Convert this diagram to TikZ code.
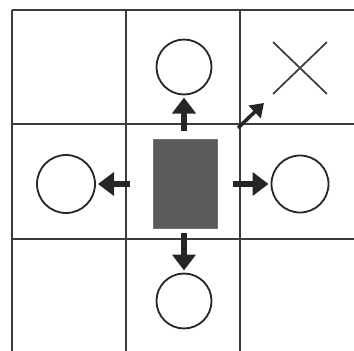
\documentclass[tikz,border=0pt]{standalone}
\usetikzlibrary{arrows.meta}
\definecolor{gridc}{HTML}{3C3C3C}
\definecolor{arrc}{HTML}{262626}
\definecolor{boxc}{HTML}{5A5A5A}
\tikzset{
  gridline/.style={draw=gridc, line width=1.8pt},
  ring/.style={circle, draw=arrc, line width=1.8pt, minimum size=56pt, inner sep=0pt, outer sep=0pt},
  bigarrow/.style={draw=arrc, line width=5.5pt, -{Triangle[width=23pt,length=16pt]}, shorten >=3pt},
  smallarrow/.style={draw=arrc, line width=3.5pt, -{Triangle[width=17pt,length=13pt]}},
  cross/.style={draw=gridc, line width=1.7pt},
}
\begin{document}
\begin{tikzpicture}[x=1pt,y=-1pt]
\useasboundingbox (0,0) rectangle (354,351);
\fill[white] (0,0) rectangle (354,351);
% grid
\foreach \x in {12,126,240} \draw[gridline] (\x,10) -- (\x,351);
\foreach \y in {10,124,239} \draw[gridline] (12,\y) -- (354,\y);
% centre block
\node[fill=boxc, draw=boxc!85, line width=0.6pt, minimum width=64pt, minimum height=89pt, inner sep=0pt] (blk) at (185,183.5) {};
% circles
\node[ring, minimum size=55pt] (top) at (184,67) {};
\node[ring, minimum size=58pt] (left) at (66,184) {};
\node[ring, minimum size=57pt] (right) at (300,184) {};
\node[ring, minimum size=55pt] (bottom) at (184,301) {};
% cross
\coordinate (xa) at (273,42); \coordinate (xb) at (327,94);
\coordinate (xc) at (273,94); \coordinate (xd) at (327,42);
\draw[cross] (xa) -- (xb);
\draw[cross] (xc) -- (xd);
% arrow starts
\coordinate (sN) at (184,131);
\coordinate (sW) at (130,184);
\coordinate (sE) at (233,184);
\coordinate (sS) at (184,233);
\coordinate (sD) at (238,128);
\coordinate (eD) at (264,103);
\draw[bigarrow] (sN) -- (top);
\draw[bigarrow] (sW) -- (left);
\draw[bigarrow] (sE) -- (right);
\draw[bigarrow] (sS) -- (bottom);
\draw[smallarrow] (sD) -- (eD);
\end{tikzpicture}
\end{document}
